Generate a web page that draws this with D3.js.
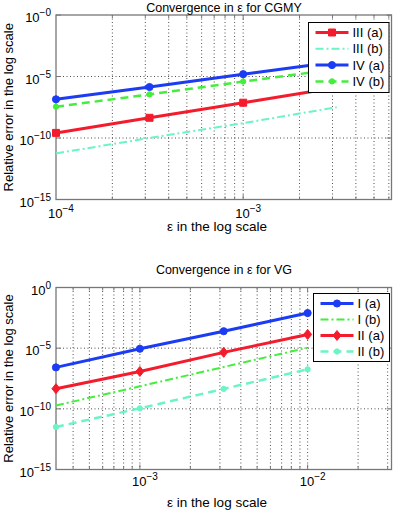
<!DOCTYPE html>
<html>
<head>
<meta charset="utf-8">
<script src="https://cdn.jsdelivr.net/npm/d3@7"></script>
<style>
  body { margin: 0; background: #fff; }
  svg { display: block; font-family: "Liberation Sans", Arial, Helvetica, sans-serif; }
</style>
</head>
<body>
<div id="chart"></div>
<script>
// data
var epsTop = [1e-4, 3.16e-4, 1e-3, 3.16e-3]
var errIIIa = [2.6e-10, 4.4e-9, 7.4e-8, 1.26e-6]
var errIIIb = [5.6e-12, 1.0e-10, 1.6e-9, 3.2e-8]
var errIVa = [1.4e-7, 1.4e-6, 1.55e-5, 1.6e-4]
var errIVb = [3.5e-8, 3.5e-7, 3.9e-6, 4.0e-5]

var epsBot = [3.16e-4, 1e-3, 3.16e-3, 1e-2]
var errIa = [2.6e-7, 8.9e-6, 2.5e-4, 7.8e-3]
var errIb = [1.9e-10, 7.2e-9, 2.8e-7, 1.1e-5]
var errIIa = [4.6e-9, 1.2e-7, 4.5e-6, 1.35e-4]
var errIIb = [3.2e-12, 1.1e-10, 4.4e-9, 1.8e-7]

var yTicks = [1e-15, 1e-10, 1e-5, 1]
var yTickExpTop = ["\u221215", "\u221210", "\u22125", "\u22120"]
var yTickExpBot = ["\u221215", "\u221210", "\u22125", "0"]
var xTicksTop = [1e-4, 1e-3]
var xTickExpTop = ["\u22124", "\u22123"]
var xTicksBot = [1e-3, 1e-2]
var xTickExpBot = ["\u22123", "\u22122"]

var RED = "#f41c2c", BLUE = "#1c3cf4", GREEN = "#44ee3c", CYAN = "#6cf4c4"
var DASH = "8,5", DASHDOT = "8,3,2,3"

var svg = d3.select("#chart").append("svg")
    .attr("width", 394)
    .attr("height", 511)

function panel(cfg) {
    var x = d3.scaleLog().domain(cfg.xDomain).range([56, 391.5])
    var y = d3.scaleLog().domain([1e-15, 1]).range([cfg.bottom, cfg.top])
    var g = svg.append("g")

    // grid: vertical at every minor decade step, horizontal at majors
    var minors = x.ticks().filter(function(d) { return x(d) > 57 && x(d) < 390.5 })
    g.selectAll(".vg").data(minors).enter().append("line")
        .attr("x1", function(d) { return x(d) }).attr("x2", function(d) { return x(d) })
        .attr("y1", cfg.top).attr("y2", cfg.bottom)
        .attr("stroke", "#222").attr("stroke-width", 0.8).attr("stroke-dasharray", "1,2.5")
    g.selectAll(".hg").data([1e-10, 1e-5]).enter().append("line")
        .attr("x1", 56).attr("x2", 391.5)
        .attr("y1", function(d) { return y(d) }).attr("y2", function(d) { return y(d) })
        .attr("stroke", "#222").attr("stroke-width", 0.8).attr("stroke-dasharray", "1,2.5")

    // minor ticks on top and bottom
    var tk = g.append("g").attr("stroke", "#777").attr("stroke-width", 1)
    minors.forEach(function(d) {
        var big = xTicksTop.concat(xTicksBot).indexOf(d) >= 0
        var len = big ? 5 : 3
        tk.append("line").attr("x1", x(d)).attr("x2", x(d)).attr("y1", cfg.bottom).attr("y2", cfg.bottom - len)
        tk.append("line").attr("x1", x(d)).attr("x2", x(d)).attr("y1", cfg.top).attr("y2", cfg.top + len)
    })
    yTicks.forEach(function(d) {
        tk.append("line").attr("x1", 56).attr("x2", 61).attr("y1", y(d)).attr("y2", y(d))
        tk.append("line").attr("x1", 391.5).attr("x2", 386.5).attr("y1", y(d)).attr("y2", y(d))
    })

    // box
    g.append("rect").attr("x", 56).attr("y", cfg.top)
        .attr("width", 335.5).attr("height", cfg.bottom - cfg.top)
        .attr("fill", "none").attr("stroke", "#777").attr("stroke-width", 1.3)

    // tick labels
    yTicks.forEach(function(d, i) {
        var t = g.append("text").attr("x", 51).attr("y", y(d) + 7)
            .attr("text-anchor", "end").attr("font-size", 13)
        t.append("tspan").text("10")
        t.append("tspan").attr("dy", -6).attr("font-size", 10).text(cfg.yExp[i])
    })
    cfg.xTicks.forEach(function(d, i) {
        var t = g.append("text").attr("x", x(d) + 5).attr("y", cfg.bottom + cfg.xLabOff)
            .attr("text-anchor", "middle").attr("font-size", 13)
        t.append("tspan").text("10")
        t.append("tspan").attr("dy", -6).attr("font-size", 10).text(cfg.xExp[i])
    })

    // titles
    g.append("text").attr("x", 224).attr("y", cfg.titleY).attr("text-anchor", "middle")
        .attr("font-size", 12.5).text("Convergence in \u03b5 for " + cfg.name)
    g.append("text").attr("x", 217).attr("y", cfg.xLabelY).attr("text-anchor", "middle")
        .attr("font-size", 13.5).text("\u03b5 in the log scale")
    g.append("text").attr("transform", "translate(12.5," + (cfg.top + cfg.bottom) / 2 + ") rotate(-90)")
        .attr("text-anchor", "middle").attr("font-size", 13).text("Relative error in the log scale")

    // series
    var line = d3.line().x(function(d) { return x(d[0]) }).y(function(d) { return y(d[1]) })
    cfg.series.forEach(function(s) {
        var pts = cfg.eps.map(function(e, i) { return [e, s.values[i]] })
        g.append("path").datum(pts).attr("d", line)
            .attr("fill", "none").attr("stroke", s.color).attr("stroke-width", s.width)
            .attr("stroke-dasharray", s.dash)
        if (s.marker) {
            g.selectAll(null).data(pts).enter().append("path")
                .attr("transform", function(d) { return "translate(" + x(d[0]) + "," + y(d[1]) + ")" })
                .attr("d", markerPath(s.marker))
                .attr("fill", s.color).attr("stroke", s.color).attr("stroke-width", 1)
        }
    })

    // legend
    var lg = g.append("g")
    lg.append("rect").attr("x", cfg.leg.x).attr("y", cfg.leg.y)
        .attr("width", cfg.leg.w).attr("height", cfg.leg.h)
        .attr("fill", "#fff").attr("stroke", "#000").attr("stroke-width", 1)
    cfg.series.forEach(function(s, i) {
        var yy = cfg.leg.y + 10 + i * cfg.leg.step
        lg.append("line").attr("x1", cfg.leg.x + 7).attr("x2", cfg.leg.x + 40)
            .attr("y1", yy).attr("y2", yy)
            .attr("stroke", s.color).attr("stroke-width", s.width).attr("stroke-dasharray", s.dash)
        if (s.marker) {
            lg.append("path").attr("transform", "translate(" + (cfg.leg.x + 23.5) + "," + yy + ")")
                .attr("d", markerPath(s.marker))
                .attr("fill", s.color).attr("stroke", s.color).attr("stroke-width", 1)
        }
        lg.append("text").attr("x", cfg.leg.x + 44).attr("y", yy + 4.5)
            .attr("font-size", 13).text(s.name)
    })
}

function markerPath(m) {
    if (m == "square") return "M-3.5,-3.5H3.5V3.5H-3.5Z"
    if (m == "circle") return d3.symbol(d3.symbolCircle, 40)()
    if (m == "dot") return d3.symbol(d3.symbolCircle, 22)()
    if (m == "diamond") return "M0,-5L4,0L0,5L-4,0Z"
}

panel({
    name: "CGMY", top: 15, bottom: 199.5, xDomain: [1e-4, 6.2e-3],
    eps: epsTop, xTicks: xTicksTop, xExp: xTickExpTop, yExp: yTickExpTop,
    xLabOff: 18, titleY: 11.5, xLabelY: 231,
    leg: {x: 308.5, y: 22.5, w: 80.5, h: 70, step: 16.3},
    series: [
        {name: "III (a)", values: errIIIa, color: RED, width: 3, dash: null, marker: "square"},
        {name: "III (b)", values: errIIIb, color: CYAN, width: 2, dash: DASHDOT, marker: null},
        {name: "IV (a)", values: errIVa, color: BLUE, width: 3, dash: null, marker: "circle"},
        {name: "IV (b)", values: errIVb, color: GREEN, width: 2.5, dash: DASH, marker: "dot"}
    ]
})

panel({
    name: "VG", top: 287.5, bottom: 469.5, xDomain: [Math.pow(10, -3.5), Math.pow(10, -1.5)],
    eps: epsBot, xTicks: xTicksBot, xExp: xTickExpBot, yExp: yTickExpBot,
    xLabOff: 16, titleY: 274, xLabelY: 507,
    leg: {x: 313.5, y: 293.5, w: 76, h: 68, step: 16},
    series: [
        {name: "I (a)", values: errIa, color: BLUE, width: 3, dash: null, marker: "circle"},
        {name: "I (b)", values: errIb, color: GREEN, width: 2, dash: DASHDOT, marker: null},
        {name: "II (a)", values: errIIa, color: RED, width: 3, dash: null, marker: "diamond"},
        {name: "II (b)", values: errIIb, color: CYAN, width: 2.5, dash: DASH, marker: "dot"}
    ]
})
</script>
</body>
</html>
